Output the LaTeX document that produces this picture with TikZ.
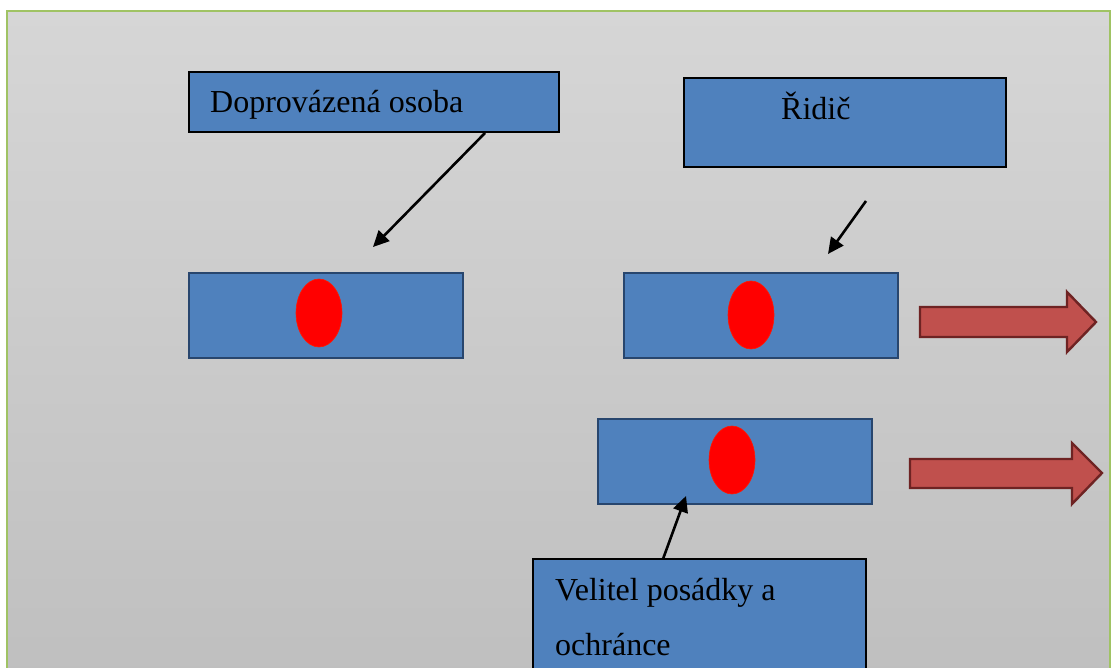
\documentclass[tikz,border=0pt]{standalone}
\usepackage{fontspec}
\setmainfont{Liberation Serif}
\usetikzlibrary{arrows.meta,calc,shapes.geometric}
\definecolor{bgtop}{RGB}{214,214,214}
\definecolor{bgbot}{RGB}{191,191,191}
\definecolor{frame}{RGB}{160,195,100}
\definecolor{boxblue}{RGB}{79,129,189}
\definecolor{boxedge}{RGB}{40,70,110}
\definecolor{dotred}{RGB}{255,0,0}
\definecolor{arrred}{RGB}{192,80,77}
\definecolor{arredge}{RGB}{110,35,35}
\tikzset{
  labelbox/.style={draw=black, fill=boxblue, line width=2.8pt, inner sep=0pt},
  carbox/.style={draw=boxedge, fill=boxblue, line width=2.4pt, inner sep=0pt},
  person/.style={ellipse, fill=dotred, draw=red!80!orange, line width=0.6pt, minimum width=46pt, minimum height=68pt, inner sep=0pt},
  lbl/.style={anchor=base west, inner sep=0pt, font=\fontsize{32}{55}\selectfont},
  pointer/.style={draw=black, line width=2.6pt, -{Triangle[length=16pt,width=15pt]}},
  bigarrow/.style={fill=arrred, draw=arredge, line width=2.4pt, line join=miter}
}
\begin{document}
\begin{tikzpicture}[x=1pt,y=-1pt]
\useasboundingbox (0,0) rectangle (1113,668);
\fill[white] (0,0) rectangle (1113,668);
\begin{scope}
\clip (0,0) rectangle (1113,668);
\shade[top color=bgtop, bottom color=bgbot] (7,11) rectangle (1110,680);
\draw[frame, line width=1.5pt] (7,680) -- (7,11) -- (1110,11) -- (1110,680);
\end{scope}

% label boxes
\node[labelbox, minimum width=370pt, minimum height=60pt] (b1) at (374,102) {};
\node[lbl] (t1) at (210,113) {Doprovázená osoba};
\node[labelbox, minimum width=322pt, minimum height=89pt] (b2) at (845,122.5) {};
\node[lbl] (t2) at (781,120) {Řidič};
\node[labelbox, minimum width=333pt, minimum height=140pt] (b3) at (699.5,629) {};
\node[lbl] (t3a) at (555,600) {Velitel posádky a};
\node[lbl] (t3b) at (555,655) {ochránce};

% cars
\node[carbox, minimum width=274pt, minimum height=85pt] (c1) at (326,315.5) {};
\node[carbox, minimum width=274pt, minimum height=85pt] (c2) at (761,315.5) {};
\node[carbox, minimum width=274pt, minimum height=85pt] (c3) at (735,461.5) {};
\node[person] (p1) at (319,313) {};
\node[person] (p2) at (751,315) {};
\node[person] (p3) at (732,460) {};

% pointers
\coordinate (a1s) at (485,133);
\coordinate (a1e) at (373,247);
\coordinate (a2s) at (866,201);
\coordinate (a2e) at (828,254);
\coordinate (a3s) at (663,559);
\coordinate (a3e) at (686,496);
\draw[pointer] (a1s) -- (a1e);
\draw[pointer] (a2s) -- (a2e);
\draw[pointer] (a3s) -- (a3e);

% movement arrows
\draw[bigarrow] (920,307) -- (1067,307) -- (1067,292) -- (1096,322) -- (1067,352) -- (1067,337) -- (920,337) -- cycle;
\draw[bigarrow] (910,459) -- (1072,459) -- (1072,443) -- (1102,473) -- (1072,504) -- (1072,488) -- (910,488) -- cycle;
\end{tikzpicture}
\end{document}
